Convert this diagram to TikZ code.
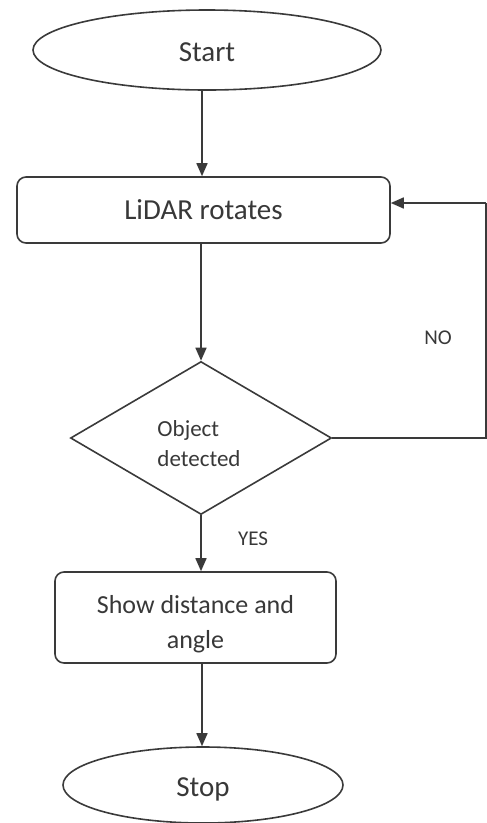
\documentclass[tikz,border=0pt]{standalone}
\usepackage{fontspec}
\setmainfont{Carlito}
\usetikzlibrary{shapes.geometric,arrows.meta}
\definecolor{ink}{HTML}{3A3A3A}
\definecolor{txt}{HTML}{383838}
\tikzset{
  base/.style={draw=ink, line width=1.6pt, inner sep=0pt},
  term/.style={base, ellipse},
  proc/.style={base, rectangle, rounded corners=9pt},
  decide/.style={base, diamond, aspect=1.7},
  caption/.style={text=txt, inner sep=0pt},
  big/.style={caption, font=\fontsize{29}{34}\selectfont},
  arr/.style={draw=ink, line width=1.6pt,
              -{Triangle[length=13pt,width=11pt]}},
  wire/.style={draw=ink, line width=1.6pt},
  tag/.style={caption, font=\fontsize{21}{25}\selectfont}
}
\begin{document}
\begin{tikzpicture}[x=1pt,y=-1pt]
  \useasboundingbox (0,0) rectangle (487,823);

  % flow shapes
  \node[term, minimum width=348pt, minimum height=80pt] (start) at (207,50) {};
  \node[proc, minimum width=373pt, minimum height=66pt] (lidar) at (203.5,210) {};
  \node[decide, minimum width=261pt, minimum height=153pt] (obj) at (201,438) {};
  \node[proc, minimum width=281pt, minimum height=91pt] (show) at (195.5,617.5) {};
  \node[term, minimum width=280pt, minimum height=76pt] (stop) at (203,785) {};

  % their texts
  \node[big] (starttext) at ([yshift=-2pt]start.center) {Start};
  \node[big] (lidartext) at (lidar.center) {LiDAR rotates};
  \node[caption, align=left, font=\fontsize{23}{30}\selectfont]
        (objtext) at ([xshift=-2pt,yshift=-6pt]obj.center) {Object\\detected};
  \node[caption, align=center, font=\fontsize{26}{35}\selectfont]
        (showtext) at ([yshift=-7pt]show.center) {Show distance and\\angle};
  \node[big] (stoptext) at ([yshift=-4pt]stop.center) {Stop};

  % main flow
  \coordinate (axis) at (202,0);
  \draw[arr] (start.south -| axis) -- (lidar.north -| axis);
  \draw[arr] (lidar.south -| obj.north) -- (obj.north);
  \draw[arr] (obj.south) -- (show.north -| obj.south);
  \draw[arr] (show.south -| axis) -- (stop.north -| axis);

  % loop back when nothing is detected
  \coordinate (rdown) at (486,438);
  \coordinate (rup) at (486,203);
  \coordinate (back) at (lidar.east |- rup);
  \draw[wire] (obj.east) -- (rdown) -- (rup);
  \draw[arr] (rup) -- (back);

  % branch labels
  \node[tag] (no) at (438,338) {NO};
  \node[tag] (yes) at (253,539) {YES};
\end{tikzpicture}
\end{document}
